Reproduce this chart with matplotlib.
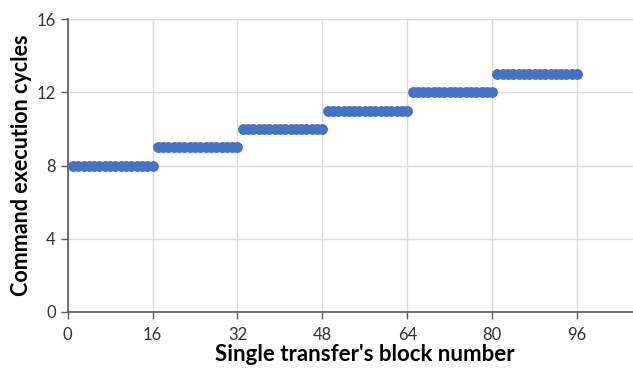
import matplotlib
matplotlib.use("Agg")
import matplotlib.pyplot as plt

# Block numbers of a single transfer and the cycles each command takes
blocks = list(range(1, 97))
cycles = [
    8, 8, 8, 8, 8, 8, 8, 8, 8, 8, 8, 8, 8, 8, 8, 8,
    9, 9, 9, 9, 9, 9, 9, 9, 9, 9, 9, 9, 9, 9, 9, 9,
    10, 10, 10, 10, 10, 10, 10, 10, 10, 10, 10, 10, 10, 10, 10, 10,
    11, 11, 11, 11, 11, 11, 11, 11, 11, 11, 11, 11, 11, 11, 11, 11,
    12, 12, 12, 12, 12, 12, 12, 12, 12, 12, 12, 12, 12, 12, 12, 12,
    13, 13, 13, 13, 13, 13, 13, 13, 13, 13, 13, 13, 13, 13, 13, 13,
]
x_ticks = [0, 16, 32, 48, 64, 80, 96]
y_ticks = [0, 4, 8, 12, 16]

plt.rcParams['font.family'] = ['Lato', 'DejaVu Sans']

fig = plt.figure(figsize=(6.33, 3.68), dpi=100)
# the plot area runs to x = 112, past the right edge of the canvas
left, right, top, bottom = 67.6, 662.0, 19.0, 312.0
ax = fig.add_axes([left / 633, 1 - bottom / 368, (right - left) / 633, (bottom - top) / 368])

ax.plot(blocks, cycles, linestyle='none', marker='o', markersize=6.8,
        color='#4472C4', markeredgecolor='#4472C4', zorder=3, clip_on=False)

ax.set_xlim(0, 112)
ax.set_ylim(0, 16)
ax.set_xticks(x_ticks)
ax.set_yticks(y_ticks)
ax.grid(True, color='#d9d9d9', linewidth=1)
ax.set_axisbelow(True)

for side in ('top', 'right'):
    ax.spines[side].set_visible(False)
for side in ('left', 'bottom'):
    ax.spines[side].set_color('#595959')
    ax.spines[side].set_linewidth(1.2)

ax.tick_params(axis='both', direction='out', length=5, width=1, color='#595959',
               labelsize=12, labelcolor='#333333')
ax.tick_params(axis='x', pad=6)

ax.set_xlabel("Single transfer's block number", fontsize=16, fontweight='bold',
              labelpad=0.5)
ax.set_ylabel("Command execution cycles", fontsize=15.5, fontweight='bold',
              labelpad=3)

fig.savefig('out.png', dpi=100)
